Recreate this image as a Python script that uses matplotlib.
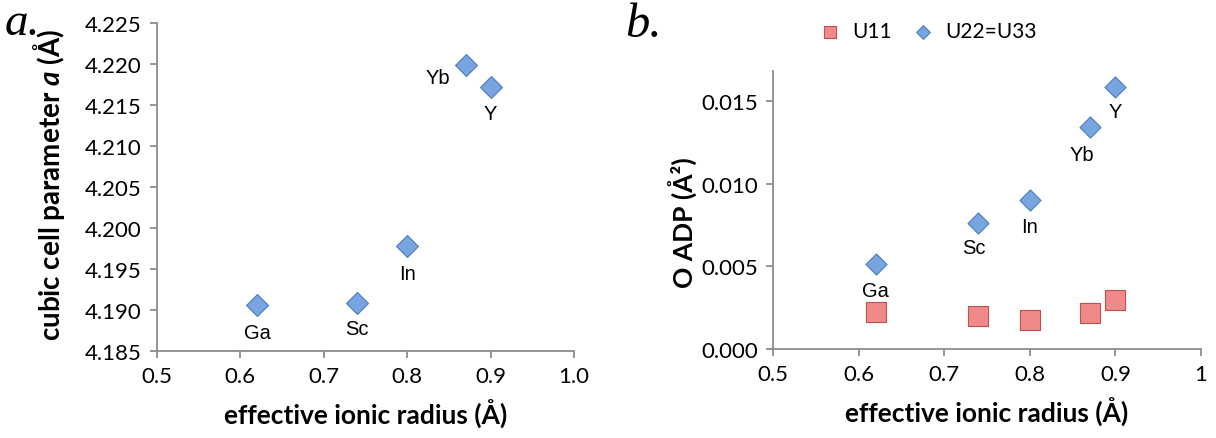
import matplotlib.pyplot as plt

plt.rcParams['mathtext.fontset'] = 'custom'
plt.rcParams['mathtext.it'] = 'Lato:bold:italic'
plt.rcParams['mathtext.rm'] = 'Lato:bold'

# data
elements = ['Ga', 'Sc', 'In', 'Yb', 'Y']
radius = [0.62, 0.74, 0.80, 0.87, 0.90]
cell_a = [4.1906, 4.1908, 4.1978, 4.2199, 4.2172]
u11 = [0.00224, 0.00201, 0.00176, 0.00218, 0.00297]
u22 = [0.00516, 0.00764, 0.00899, 0.01343, 0.01585]
xticks = [0.5, 0.6, 0.7, 0.8, 0.9, 1.0]
yticks_a = [4.185, 4.190, 4.195, 4.200, 4.205, 4.210, 4.215, 4.220, 4.225]
yticks_b = [0.0, 0.005, 0.010, 0.015]

tick_font = 'Lato'
label_font = 'Lato'
note_font = 'Liberation Sans'
gray = '#8c8c8c'
blue_face = '#78a4df'
blue_edge = '#4a7ebb'
red_face = '#f08a88'
red_edge = '#c0504d'

fig = plt.figure(figsize=(12.16, 4.39), dpi=100)
ax1 = fig.add_axes([0.1291, 0.1982, 0.3429, 0.7471])
ax2 = fig.add_axes([0.6357, 0.2027, 0.3520, 0.6333])

for ax in (ax1, ax2):
    for s in ('top', 'right'):
        ax.spines[s].set_visible(False)
    for s in ('left', 'bottom'):
        ax.spines[s].set_color(gray)
        ax.spines[s].set_linewidth(1.3)
    ax.tick_params(direction='out', length=5, width=1.3, color=gray,
                   labelsize=16, pad=6)

# panel a
ax1.scatter(radius, cell_a, marker='D', s=125, c=blue_face,
            edgecolors=blue_edge, linewidths=0.8, zorder=3)
ax1.set_xlim(0.5, 1.0)
ax1.set_ylim(4.185, 4.225)
ax1.set_xticks(xticks)
ax1.set_xticklabels(['%.1f' % v for v in xticks], fontfamily=tick_font)
ax1.set_yticks(yticks_a)
ax1.set_yticklabels(['%.3f' % v for v in yticks_a], fontfamily=tick_font)
ax1.set_xlabel('effective ionic radius (Å)', fontsize=19, fontweight='bold',
               fontfamily=label_font, labelpad=9)
ax1.set_ylabel('cubic cell parameter $a$ (Å)', fontsize=20, fontweight='bold',
               fontfamily=label_font)
ax1.yaxis.set_label_coords(-0.215, 0.51)

offsets_a = {'Ga': (0, -20, 'center'), 'Sc': (0, -18, 'center'),
             'In': (0, -20, 'center'), 'Yb': (-11, -9, 'right'),
             'Y': (0, -19, 'center')}
for el, x, y in zip(elements, radius, cell_a):
    dx, dy, ha = offsets_a[el]
    ax1.annotate(el, (x, y), xytext=(dx, dy), textcoords='offset points',
                 ha=ha, va='center', fontsize=14.5, fontfamily=note_font)

# panel b
ax2.scatter(radius, u11, marker='s', s=200, c=red_face, edgecolors=red_edge,
            linewidths=0.8, zorder=3, label='U11')
ax2.scatter(radius, u22, marker='D', s=115, c=blue_face, edgecolors=blue_edge,
            linewidths=0.8, zorder=3, label='U22=U33')
ax2.set_xlim(0.5, 1.0)
ax2.set_ylim(0, 0.0168)
ax2.set_xticks(xticks)
ax2.set_xticklabels(['0.5', '0.6', '0.7', '0.8', '0.9', '1'], fontfamily=tick_font)
ax2.set_yticks(yticks_b)
ax2.set_yticklabels(['%.3f' % v for v in yticks_b], fontfamily=tick_font)
ax2.set_xlabel('effective ionic radius (Å)', fontsize=19, fontweight='bold',
               fontfamily=label_font, labelpad=9)
ax2.set_ylabel('O ADP (Å²)', fontsize=19, fontweight='bold',
               fontfamily=label_font)
ax2.yaxis.set_label_coords(-0.175, 0.46)

offsets_b = {'Ga': (0, -19), 'Sc': (-3, -18), 'In': (0, -19),
             'Yb': (-6, -20), 'Y': (0, -18)}
for el, x, y in zip(elements, radius, u22):
    dx, dy = offsets_b[el]
    ax2.annotate(el, (x, y), xytext=(dx, dy), textcoords='offset points',
                 ha='center', va='center', fontsize=14.5, fontfamily=note_font)

ax2.legend(loc='lower center', bbox_to_anchor=(0.35, 1.04), ncol=2,
           frameon=False, handletextpad=0.05, columnspacing=0.5,
           markerscale=0.65, prop={'family': tick_font, 'size': 15})

fig.text(0.004, 1 - 35 / 439, 'a.', fontsize=34, style='italic',
         fontfamily='Liberation Serif', va='baseline')
fig.text(0.514, 1 - 37 / 439, 'b.', fontsize=35, style='italic',
         fontfamily='Liberation Serif', va='baseline')

fig.savefig('out.png', dpi=100)
